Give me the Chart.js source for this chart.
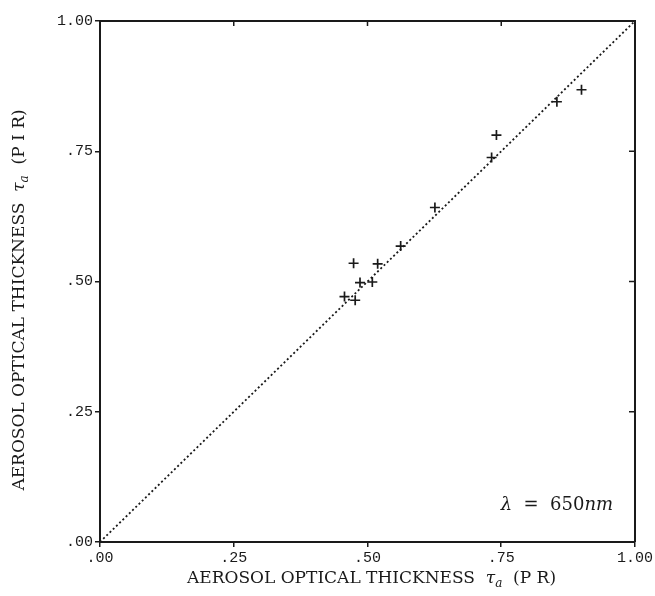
<!DOCTYPE html>
<html>
<head>
<meta charset="utf-8">
<script src="https://cdn.jsdelivr.net/npm/chart.js@4.4.0/dist/chart.umd.min.js"></script>
<style>
  html, body { margin: 0; padding: 0; background: #fff; }
  #wrap { width: 655px; height: 596px; }
</style>
</head>
<body>
<div id="wrap"><canvas id="myChart" width="655" height="596"></canvas></div>
<script>
const ctx = document.getElementById('myChart');

// tau_a from PR (x) and PIR (y)
const tauPR  = [0.457, 0.477, 0.474, 0.486, 0.509, 0.519, 0.562, 0.626, 0.732, 0.741, 0.854, 0.900];
const tauPIR = [0.471, 0.464, 0.535, 0.498, 0.499, 0.534, 0.568, 0.642, 0.738, 0.781, 0.845, 0.868];

// 1:1 line
const lineX = [0, 1];
const lineY = [0, 1];

const tickValues = [0, 0.25, 0.5, 0.75, 1];
const tickText = ['.00', '.25', '.50', '.75', '1.00'];

const xTitle = ['AEROSOL OPTICAL THICKNESS', '(P R)'];
const yTitle = ['AEROSOL OPTICAL THICKNESS', '(P I R)'];
const notePos = { x: 0.854, y: 0.071 };

const ink = '#1a1a1a';
const serif = '"DejaVu Serif"';

function fmtTick(v) {
  const i = tickValues.findIndex(t => Math.abs(t - v) < 1e-6);
  return i >= 0 ? tickText[i] : '';
}

// draws "TEXT  tau_a  (..)" starting at 0,0 along the baseline; returns width
function titleRun(c, parts, draw) {
  let x = 0;
  const seg = (txt, font, dy) => {
    c.font = font;
    if (draw) c.fillText(txt, x, dy || 0);
    x += c.measureText(txt).width;
  };
  seg(parts[0] + '  ', '17px ' + serif);
  seg('\u03c4', 'italic 17px ' + serif);
  seg('a', 'italic 12px ' + serif, 4);
  seg('  ' + parts[1], '17px ' + serif);
  return x;
}

const extras = {
  id: 'extras',
  afterDraw(chart) {
    const c = chart.ctx;
    const xs = chart.scales.x, ys = chart.scales.y;
    const a = chart.chartArea;
    c.save();
    c.strokeStyle = ink;
    c.fillStyle = ink;
    // inward ticks on top and right
    c.lineWidth = 1.5;
    tickValues.forEach(v => {
      const px = xs.getPixelForValue(v);
      c.beginPath(); c.moveTo(px, a.top); c.lineTo(px, a.top + 5); c.stroke();
      const py = ys.getPixelForValue(v);
      c.beginPath(); c.moveTo(a.right, py); c.lineTo(a.right - 6, py); c.stroke();
    });
    // top and right frame
    c.lineWidth = 2;
    c.beginPath();
    c.moveTo(a.left, a.top); c.lineTo(a.right, a.top); c.lineTo(a.right, a.bottom);
    c.stroke();

    // axis titles
    c.textBaseline = 'alphabetic';
    let w = titleRun(c, xTitle, false);
    c.save();
    c.translate((a.left + a.right) / 2 + 4 - w / 2, 583);
    titleRun(c, xTitle, true);
    c.restore();

    w = titleRun(c, yTitle, false);
    c.save();
    c.translate(24, 300 + w / 2);
    c.rotate(-Math.PI / 2);
    titleRun(c, yTitle, true);
    c.restore();

    // lambda = 650nm
    c.textBaseline = 'middle';
    const x0 = xs.getPixelForValue(notePos.x);
    const y0 = ys.getPixelForValue(notePos.y);
    c.font = 'italic 18px ' + serif;
    const p1 = '\u03bb', p3 = 'nm';
    const w1 = c.measureText(p1).width, w3 = c.measureText(p3).width;
    c.font = '18px ' + serif;
    const p2 = '  =  650';
    const w2 = c.measureText(p2).width;
    let sx = x0 - (w1 + w2 + w3) / 2;
    c.font = 'italic 18px ' + serif;
    c.fillText(p1, sx, y0);
    c.font = '18px ' + serif;
    c.fillText(p2, sx + w1, y0);
    c.font = 'italic 18px ' + serif;
    c.fillText(p3, sx + w1 + w2, y0);
    c.restore();
  }
};

const cfg = {
  type: 'scatter',
  data: {
    datasets: [
      {
        label: 'PIR vs PR',
        data: tauPR.map((x, i) => ({ x: x, y: tauPIR[i] })),
        pointStyle: 'cross',
        pointRadius: 5,
        pointHoverRadius: 5,
        borderColor: ink,
        borderWidth: 1.7,
        order: 1
      },
      {
        type: 'line',
        label: '1:1',
        data: lineX.map((x, i) => ({ x: x, y: lineY[i] })),
        borderColor: ink,
        borderWidth: 1.8,
        borderDash: [2, 2.5],
        pointRadius: 0,
        fill: false,
        order: 2
      }
    ]
  },
  options: {
    responsive: false,
    animation: false,
    layout: { padding: { top: 21, right: 20, left: 0, bottom: 0 } },
    plugins: {
      legend: { display: false },
      tooltip: { enabled: false }
    },
    scales: {
      x: {
        type: 'linear',
        min: 0,
        max: 1,
        afterBuildTicks(s) { s.ticks = tickValues.map(v => ({ value: v })); },
        afterFit(s) { s.height = 54; },
        border: { display: true, color: ink, width: 2 },
        grid: { drawOnChartArea: false, drawTicks: true, tickLength: 5, color: ink, lineWidth: 1.5 },
        ticks: {
          color: ink,
          padding: 2,
          maxRotation: 0,
          font: { family: 'Liberation Mono', size: 15 },
          callback: v => fmtTick(v)
        }
      },
      y: {
        type: 'linear',
        min: 0,
        max: 1,
        afterBuildTicks(s) { s.ticks = tickValues.map(v => ({ value: v })); },
        afterFit(s) { s.width = 100; },
        border: { display: true, color: ink, width: 2 },
        grid: { drawOnChartArea: false, drawTicks: true, tickLength: 5, color: ink, lineWidth: 1.5 },
        ticks: {
          color: ink,
          padding: 2,
          font: { family: 'Liberation Mono', size: 15 },
          callback: v => fmtTick(v)
        }
      }
    }
  },
  plugins: [extras]
};

let cc = new Chart(ctx, cfg);
</script>
</body>
</html>
